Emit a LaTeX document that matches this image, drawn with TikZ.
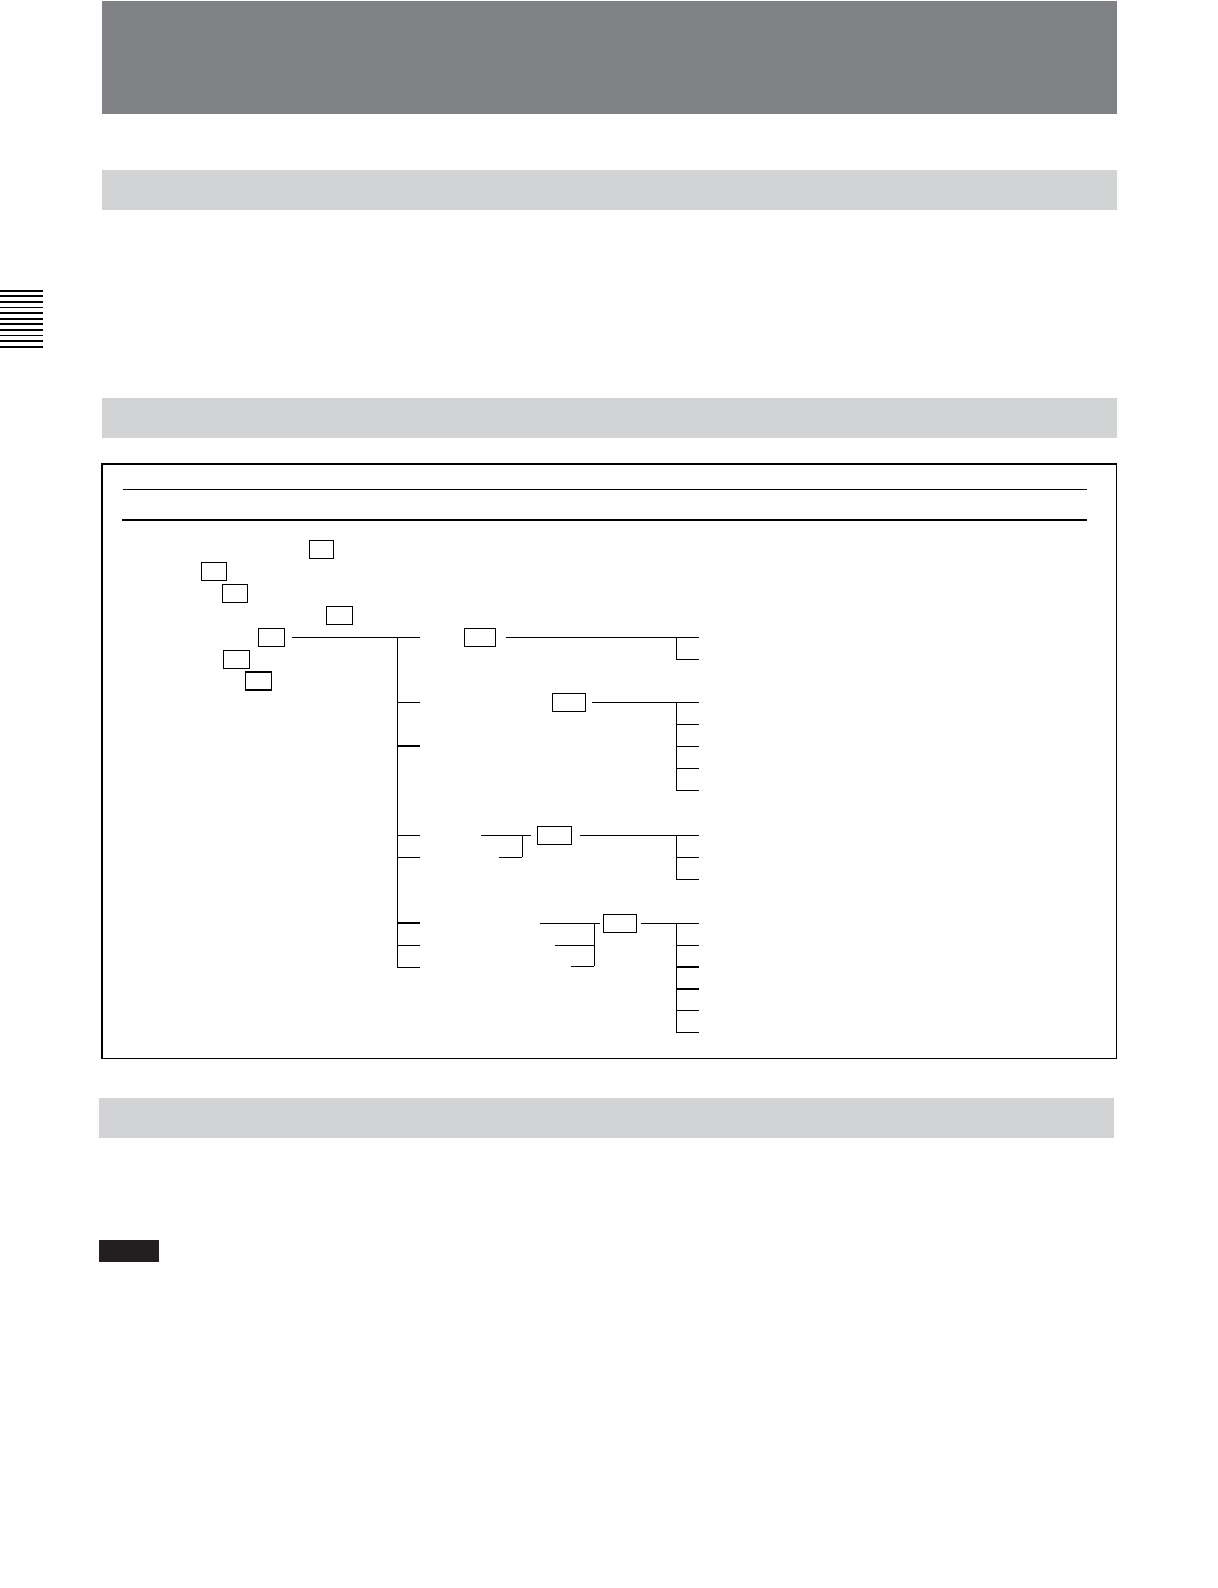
\documentclass[tikz,border=0pt]{standalone}
\usepackage{tikz}
\usetikzlibrary{positioning}
\definecolor{bandDark}{RGB}{128,129,133}
\definecolor{bandLight}{RGB}{209,211,212}
\definecolor{noteBlack}{RGB}{35,31,32}
\tikzset{
	keybox/.style={draw,line width=.6pt,minimum width=#1,minimum height=9pt,inner sep=0pt},
	keybox/.default=13pt
}
\newcommand{\subList}[2]{
	% #1: y of first item
	% #2: number of items
	\draw (676.3,#1) to (676.3,#1+#2*21.9-21.9);
	\foreach \i in {1,...,#2} {
		\draw (676.3,#1+\i*21.9-21.9) to (699,#1+\i*21.9-21.9);
	}
}

\begin{document}
\begin{tikzpicture}[x=.5pt,y=-.5pt,line width=.6pt]
\useasboundingbox (0,0) rectangle (1218,1588);

% heading bands
\fill[bandDark] (102,1) rectangle (1117,114);
\fill[bandLight] (102,170) rectangle (1117,210);
\fill[bandLight] (102,398) rectangle (1117,437.7);
\fill[bandLight] (99,1098) rectangle (1114,1138);

% side tab marks
\foreach \i in {0,...,10} {
	\draw[line width=.9pt] (0,290.7+\i*5.6) to (42.7,290.7+\i*5.6);
}

% menu frame
\draw (102,464) rectangle (1116.7,1058.3);
\draw (122.7,489.3) to (1087,489.3);
\draw[line width=1pt] (122,520) to (1087,520);

% key boxes
\node[keybox=12pt] (keyA) at (321.3,549.3) {};
\node[keybox=12.7pt] (keyB) at (214,571.3) {};
\node[keybox=12.7pt] (keyC) at (235,593.5) {};
\node[keybox] (keyD) at (339.3,615.3) {};
\node[keybox] (keyE) at (271.3,637.3) {};
\node[keybox] (keyG) at (236.3,659.3) {};
\node[keybox] (keyH) at (258.5,681) {};
\node[keybox=15.7pt] (keyF) at (480,637.3) {};
\node[keybox=16.7pt] (keyI) at (569,702.8) {};
\node[keybox=17.2pt] (keyJ) at (554.5,835.3) {};
\node[keybox=16.7pt] (keyK) at (620,923.2) {};

% main list
\draw ([xshift=3.3pt]keyE.east) to (420,637.3);
\draw (397.3,637.3) to (397.3,967.3);
\foreach \y in {702.3,746,835.3,857.7,923,945.3,967.3} {
	\draw (397.3,\y) to (420,\y);
}

% first sub list
\draw ([xshift=4.6pt]keyF.east) to (676.3,637.3);
\subList{637.3}{2}

% second sub list
\draw ([xshift=2.6pt]keyI.east) to (676.3,702.8);
\subList{702.8}{5}

% third sub list
\draw (481,835.3) to ([xshift=-2.8pt]keyJ.west);
\draw (522.3,835.3) to (522.3,857.3);
\draw (499,857.3) to (522.3,857.3);
\draw ([xshift=3.6pt]keyJ.east) to (676.3,835.3);
\subList{835.3}{3}

% fourth sub list
\draw (540,923.2) to ([xshift=-1.3pt]keyK.west);
\draw (594.3,923.2) to (594.3,966.3);
\draw (555,945.3) to (594.3,945.3);
\draw (571,966.3) to (594.3,966.3);
\draw ([xshift=1.6pt]keyK.east) to (676.3,923.2);
\subList{923.2}{6}

% note mark
\fill[noteBlack] (99,1240) rectangle (158.7,1262);

\end{tikzpicture}
\end{document}
